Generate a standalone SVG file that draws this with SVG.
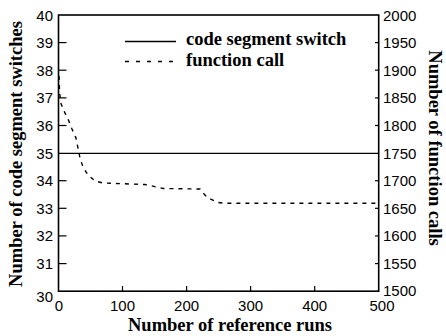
<svg xmlns="http://www.w3.org/2000/svg" width="446" height="336" viewBox="0 0 446 336">
<style>
.ax{fill:none;stroke:#000;stroke-width:1.6}
.tk{stroke:#000;stroke-width:1.2}
.num{font-family:"Liberation Sans",Arial,sans-serif;font-size:15px;fill:#000}
.ttl{font-family:"Liberation Serif","Times New Roman",serif;font-size:18.5px;font-weight:bold;fill:#000}
.leg{font-family:"Liberation Serif","Times New Roman",serif;font-size:18.5px;font-weight:bold;fill:#000}
.solid{fill:none;stroke:#000;stroke-width:1.4}
.dash{fill:none;stroke:#000;stroke-width:1.4;stroke-dasharray:4 5}
</style>
<rect width="446" height="336" fill="#fff"/>
<g id="axes">
<rect class="ax" x="58.5" y="15" width="320.2" height="276.2"/>
<g class="tk">
<line x1="58.5" y1="42.6" x2="66.5" y2="42.6"/>
<line x1="58.5" y1="70.2" x2="66.5" y2="70.2"/>
<line x1="58.5" y1="97.9" x2="66.5" y2="97.9"/>
<line x1="58.5" y1="125.5" x2="66.5" y2="125.5"/>
<line x1="58.5" y1="180.7" x2="66.5" y2="180.7"/>
<line x1="58.5" y1="208.3" x2="66.5" y2="208.3"/>
<line x1="58.5" y1="235.9" x2="66.5" y2="235.9"/>
<line x1="58.5" y1="263.6" x2="66.5" y2="263.6"/>
<line x1="375" y1="42.6" x2="378.7" y2="42.6"/>
<line x1="375" y1="70.2" x2="378.7" y2="70.2"/>
<line x1="375" y1="97.9" x2="378.7" y2="97.9"/>
<line x1="375" y1="125.5" x2="378.7" y2="125.5"/>
<line x1="375" y1="180.7" x2="378.7" y2="180.7"/>
<line x1="375" y1="208.3" x2="378.7" y2="208.3"/>
<line x1="375" y1="235.9" x2="378.7" y2="235.9"/>
<line x1="375" y1="263.6" x2="378.7" y2="263.6"/>
<line x1="122.5" y1="291.2" x2="122.5" y2="286"/>
<line x1="186.6" y1="291.2" x2="186.6" y2="286"/>
<line x1="250.6" y1="291.2" x2="250.6" y2="286"/>
<line x1="314.7" y1="291.2" x2="314.7" y2="286"/>
</g>
</g>
<g id="left-labels" class="num" text-anchor="end">
<text x="53" y="20.5">40</text>
<text x="53" y="48">39</text>
<text x="53" y="75.5">38</text>
<text x="53" y="103">37</text>
<text x="53" y="130.5">36</text>
<text x="53" y="158.5">35</text>
<text x="53" y="186">34</text>
<text x="53" y="213.5">33</text>
<text x="53" y="241">32</text>
<text x="53" y="269">31</text>
<text x="53" y="302">30</text>
</g>
<g id="right-labels" class="num">
<text x="383" y="20.5">2000</text>
<text x="383" y="48">1950</text>
<text x="383" y="75.5">1900</text>
<text x="383" y="103">1850</text>
<text x="383" y="130.5">1800</text>
<text x="383" y="158.5">1750</text>
<text x="383" y="186">1700</text>
<text x="383" y="213.5">1650</text>
<text x="383" y="241">1600</text>
<text x="383" y="269">1550</text>
<text x="383" y="296">1500</text>
</g>
<g id="x-labels" class="num" text-anchor="middle">
<text x="59" y="311">0</text>
<text x="122.5" y="311">100</text>
<text x="186.6" y="311">200</text>
<text x="250.6" y="311">300</text>
<text x="314.7" y="311">400</text>
<text x="382" y="311">500</text>
</g>
<g id="titles">
<text class="ttl" x="230" y="331" text-anchor="middle">Number of reference runs</text>
<text class="ttl" transform="translate(22,154) rotate(-90)" text-anchor="middle">Number of code segment switches</text>
<text class="ttl" transform="translate(429,148) rotate(90)" text-anchor="middle">Number of function calls</text>
</g>
<g id="legend">
<line class="solid" x1="125" y1="41.5" x2="176" y2="41.5"/>
<line class="dash" x1="125" y1="61.5" x2="176" y2="61.5" style="stroke-dasharray:4 7"/>
<text class="leg" x="186" y="45">code segment switch</text>
<text class="leg" x="186" y="66">function call</text>
</g>
<g id="series">
<line class="solid" x1="58.5" y1="153.4" x2="378.7" y2="153.4"/>
<polyline class="dash" points="59,76 59.5,90 60.5,102 63.5,110 68,119 72,129 76,138 78,148 80,158 83,167 88,175 95,181 103,183 145,184.5 150,185.5 163,188.5 200,189 203,193 208,198 218,202.5 225,203.3 378.7,203.3"/>
</g>
</svg>
